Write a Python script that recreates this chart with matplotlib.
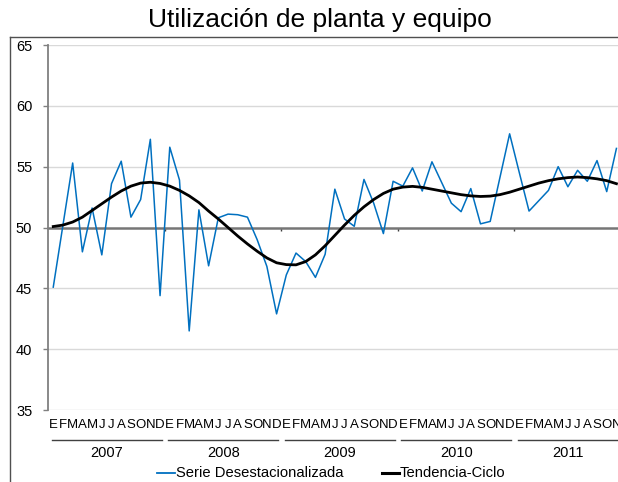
import matplotlib
matplotlib.use('Agg')
import matplotlib.pyplot as plt
from matplotlib.lines import Line2D
import numpy as np

plt.rcParams['font.family'] = ['Liberation Sans', 'DejaVu Sans']

# data: Jan 2007 .. Nov 2011
years = ['2007', '2008', '2009', '2010', '2011']
month_letters = ['E', 'F', 'M', 'A', 'M', 'J', 'J', 'A', 'S', 'O', 'N', 'D']

serie = [45.1, 50.2, 55.3, 48.0, 51.6, 47.75, 53.6, 55.45, 50.85, 52.3, 57.25, 44.4,
         56.6, 53.9, 41.5, 51.45, 46.85, 50.8, 51.1, 51.05, 50.85, 49.0, 46.8, 42.9,
         46.1, 47.9, 47.2, 45.9, 47.8, 53.15, 50.7, 50.1, 53.95, 52.0, 49.5, 53.8,
         53.4, 54.9, 53.0, 55.4, 53.7, 52.0, 51.3, 53.2, 50.3, 50.5, 54.1, 57.7,
         54.5, 51.35, 52.2, 53.05, 55.0, 53.35, 54.7, 53.8, 55.5, 52.95, 56.5]

tendencia = [50.08, 50.2, 50.45, 50.85, 51.4, 51.95, 52.5, 53.0, 53.4, 53.65, 53.72, 53.62,
             53.4, 53.05, 52.6, 52.05, 51.35, 50.7, 50.0, 49.3, 48.65, 48.05, 47.5, 47.1,
             46.95, 46.93, 47.2, 47.75, 48.5, 49.35, 50.2, 51.0, 51.7, 52.3, 52.8, 53.15,
             53.32, 53.38, 53.3, 53.15, 53.0, 52.85, 52.7, 52.6, 52.55, 52.58, 52.7, 52.9,
             53.15, 53.4, 53.65, 53.85, 54.0, 54.1, 54.15, 54.1, 54.0, 53.85, 53.6]

yticks = [35, 40, 45, 50, 55, 60, 65]

W, H = 618, 482
fig = plt.figure(figsize=(W / 100, H / 100), dpi=100)
n = len(serie)
x = np.arange(n)

# plot area runs a little past the right edge, like the cut original
ax = fig.add_axes([48.4 / W, 72 / H, n * 9.71 / W, 365 / H])
ax.set_xlim(-0.5, n - 0.5)
ax.set_ylim(35, 65)

for v in yticks:
    if v != 50:
        ax.axhline(v, color='#d9d9d9', lw=1, zorder=0)

ax.plot(x, serie, color='#0070c0', lw=1.1, zorder=3)
ax.plot(x, tendencia, color='black', lw=2.0, zorder=4)

for s in ['top', 'right']:
    ax.spines[s].set_visible(False)
ax.spines['left'].set_color('#808080')
ax.spines['left'].set_linewidth(1.3)
ax.spines['bottom'].set_position(('data', 50))
ax.spines['bottom'].set_color('#767676')
ax.spines['bottom'].set_linewidth(1.8)
ax.spines['bottom'].set_zorder(2)

ax.set_yticks(yticks)
ax.tick_params(axis='y', direction='out', length=3.6, width=1, color='#808080',
               labelsize=10.5, pad=8)
ax.set_xticks([11.5, 23.5, 35.5, 47.5])
ax.set_xticklabels([])
ax.tick_params(axis='x', direction='out', length=2.5, width=1, color='#404040')

# category labels under the plot
trans = ax.get_xaxis_transform()
for i in range(n):
    ax.text(i, -15 / 365, month_letters[i % 12], transform=trans, ha='center',
            va='center', fontsize=9.5, clip_on=False)
for k, yr in enumerate(years):
    start = k * 12 - 0.5
    end = min(start + 12, n - 0.5 + 2)
    ax.plot([start + 0.35, end - 0.35], [-30 / 365, -30 / 365], transform=trans,
            color='#404040', lw=1, clip_on=False)
    last = min(k * 12 + 11, n - 1)
    ax.text((k * 12 + last) / 2, -43 / 365, yr, transform=trans, ha='center',
            va='center', fontsize=10.5, clip_on=False)

# chart frame (cut at right and bottom)
fig.add_artist(Line2D([10 / W, 1.0], [1 - 37 / H, 1 - 37 / H], color='#505050', lw=1))
fig.add_artist(Line2D([10 / W, 10 / W], [0, 1 - 37 / H], color='#505050', lw=1))

fig.text(320 / W, 1 - 20 / H, 'Utilización de planta y equipo', ha='center',
         va='center', fontsize=19)

# legend
ly = 1 - 473 / H
fig.add_artist(Line2D([157 / W, 175 / W], [ly, ly], color='#0070c0', lw=1.3))
fig.text(176 / W, ly, 'Serie Desestacionalizada', ha='left', va='center', fontsize=10.6)
fig.add_artist(Line2D([382 / W, 399 / W], [ly, ly], color='black', lw=2.2))
fig.text(400 / W, ly, 'Tendencia-Ciclo', ha='left', va='center', fontsize=10.6)

fig.savefig('out.png', dpi=100)
